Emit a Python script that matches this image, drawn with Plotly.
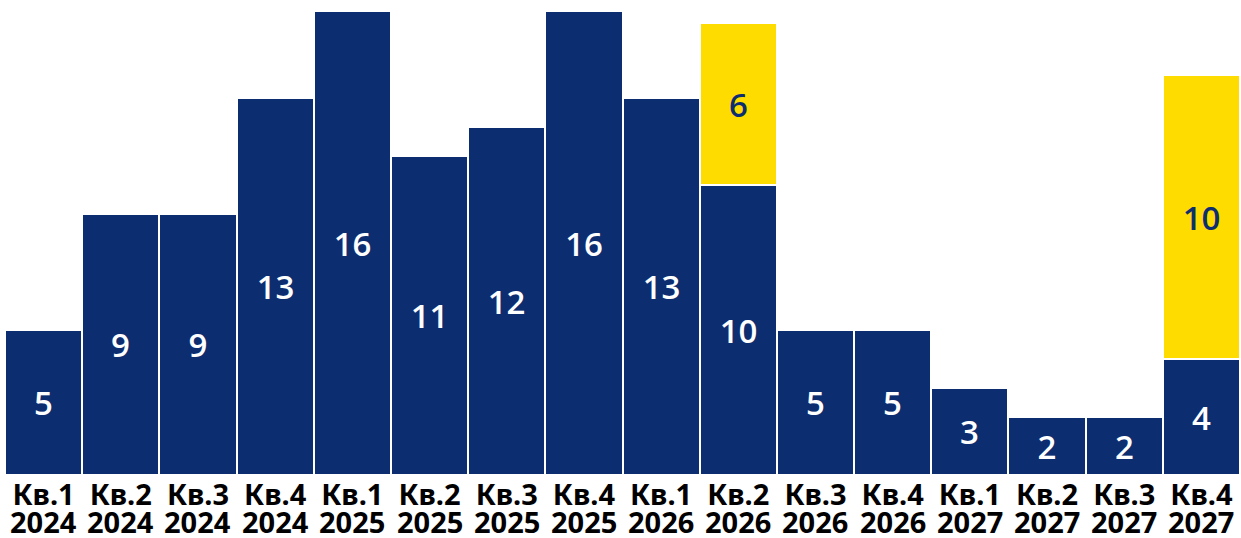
import plotly.graph_objects as go

quarters = ["Кв.1", "Кв.2", "Кв.3", "Кв.4", "Кв.1", "Кв.2", "Кв.3", "Кв.4",
            "Кв.1", "Кв.2", "Кв.3", "Кв.4", "Кв.1", "Кв.2", "Кв.3", "Кв.4"]
years = ["2024", "2024", "2024", "2024", "2025", "2025", "2025", "2025",
         "2026", "2026", "2026", "2026", "2027", "2027", "2027", "2027"]
navy_values = [5, 9, 9, 13, 16, 11, 12, 16, 13, 10, 5, 5, 3, 2, 2, 4]
yellow_values = [None, None, None, None, None, None, None, None,
                 None, 5.6, None, None, None, None, None, 9.8]

NAVY = "#0D2D71"
YELLOW = "#FFDC00"
FONT = "Noto Sans"
LABEL_FONT = "Open Sans"

cats = [f"{q} {y}" for q, y in zip(quarters, years)]

fig = go.Figure()
fig.add_trace(go.Bar(
    x=cats, y=navy_values,
    marker=dict(color=NAVY, line=dict(color="white", width=2)),
    texttemplate="%{y:.0f}", textposition="inside", insidetextanchor="middle",
    textangle=0,
    textfont=dict(family=LABEL_FONT, size=33, color="white", weight=600),
    hoverinfo="skip",
))
fig.add_trace(go.Bar(
    x=cats, y=yellow_values,
    marker=dict(color=YELLOW, line=dict(color="white", width=2)),
    texttemplate="%{y:.0f}", textposition="inside", insidetextanchor="middle",
    textangle=0,
    textfont=dict(family=LABEL_FONT, size=33, color=NAVY, weight=600),
    hoverinfo="skip",
))

annotations = [
    dict(x=c, y=0, xref="x", yref="paper", yanchor="top", yshift=-25,
         text=yr, showarrow=False,
         font=dict(family=FONT, size=29, color="black", weight="bold"))
    for c, yr in zip(cats, years)
]

fig.update_layout(
    width=1241, height=538,
    barmode="stack", bargap=0,
    margin=dict(l=5, r=1, t=11, b=63),
    paper_bgcolor="white", plot_bgcolor="white",
    showlegend=False,
    uniformtext=dict(mode=False),
    annotations=annotations,
    xaxis=dict(tickvals=cats, ticktext=quarters, showgrid=False, zeroline=False,
               showline=False, ticks="", automargin=False,
               tickfont=dict(family=FONT, size=29, color="black", weight="bold")),
    yaxis=dict(range=[0, 16], visible=False, automargin=False),
)

fig.write_html("out.html", post_script="document.body.style.margin='0';",
               config={"displayModeBar": False})
